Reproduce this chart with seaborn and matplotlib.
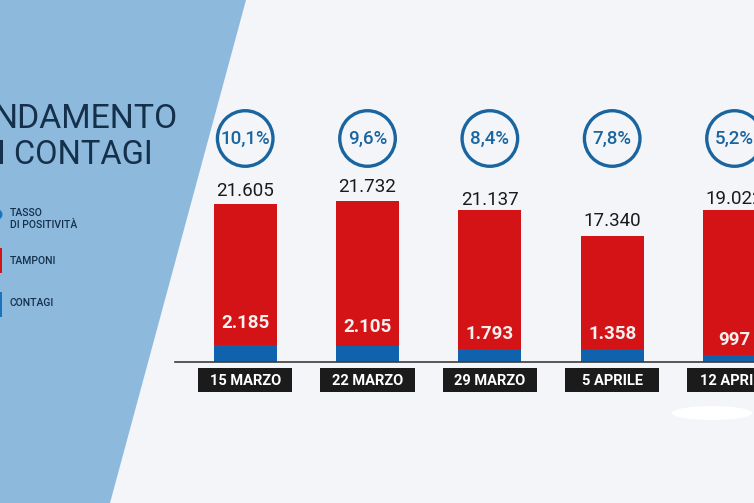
import pandas as pd
import seaborn as sns
import matplotlib.pyplot as plt
from matplotlib.patches import Polygon, Rectangle, Ellipse, Circle
from matplotlib.transforms import blended_transform_factory

# values
dates = ['15 MARZO', '22 MARZO', '29 MARZO', '5 APRILE', '12 APRILE']
# drawn bar heights, the original graphic is not quite to scale with its labels
tamponi = [21605, 22085, 20780, 17150, 20780]
contagi = [2263, 2058, 1715, 1715, 892]
tamponi_labels = ['21.605', '21.732', '21.137', '17.340', '19.022']
contagi_labels = ['2.185', '2.105', '1.793', '1.358', '997']
tasso_labels = ['10,1%', '9,6%', '8,4%', '7,8%', '5,2%']

W, H = 754, 503
BG = '#f4f5f8'
SIDE = '#8db9dd'
RED = '#d41317'
BLUE = '#0f62ab'
RING = '#1a659f'
NAVY = '#14304a'
FONT = 'Roboto'


def fx(x):
    return x / W


def fy(y):
    return 1 - y / H


sns.set_theme(style='white')
plt.rcParams['font.family'] = [FONT, 'DejaVu Sans']

fig = plt.figure(figsize=(W / 100, H / 100), dpi=100, facecolor=BG)

# side panel
fig.add_artist(Polygon([(0, 1), (fx(246), 1), (fx(110), 0), (0, 0)], closed=True,
                       transform=fig.transFigure, facecolor=SIDE, edgecolor='none', zorder=0))
# white smudge under the last date
fig.add_artist(Ellipse((fx(712), fy(413)), 80 / W, 14 / H, transform=fig.transFigure,
                       facecolor='white', edgecolor='none', zorder=0))

# title, cut off by the left edge like the original
fig.text(fx(177), fy(119), 'NDAMENTO', ha='right', va='center', fontsize=24.3, color=NAVY)
fig.text(fx(153), fy(155), 'I CONTAGI', ha='right', va='center', fontsize=23.5, color=NAVY)

# legend
fig.add_artist(Circle((fx(-8), fy(214.5)), 10.5 / W, transform=fig.transFigure,
                      facecolor='#1a74bd', edgecolor='none'))
fig.add_artist(Rectangle((0, fy(273)), 1.5 / W, 25 / H, transform=fig.transFigure,
                         facecolor=RED, edgecolor='none'))
fig.add_artist(Rectangle((0, fy(317)), 1.5 / W, 25 / H, transform=fig.transFigure,
                         facecolor='#1a74bd', edgecolor='none'))
for txt, y in [('TASSO', 213), ('DI POSITIVITÀ', 225.5), ('TAMPONI', 261), ('CONTAGI', 303)]:
    fig.text(fx(10), fy(y), txt, ha='left', va='center', fontsize=7.5, fontweight='medium', color=NAVY)

# chart, the axes bottom sits on the baseline
base_y = 361.5
ax = fig.add_axes([fx(175), fy(base_y), (W - 175) / W, base_y / H])
ax.patch.set_alpha(0)
ax.set_axisbelow(False)

df = pd.DataFrame({'data': dates, 'tamponi': tamponi, 'contagi': contagi})
sns.barplot(data=df, x='data', y='tamponi', color=RED, saturation=1, width=0.515, linewidth=0, ax=ax)
sns.barplot(data=df, x='data', y='contagi', color=BLUE, saturation=1, width=0.515, linewidth=0, ax=ax)

step = 122.33
first = 245.2
ax.set_xlim((175 - first) / step, (754 - first) / step)
ax.set_ylim(0, base_y / 0.00729)
ax.set_xlabel('')
ax.set_ylabel('')
ax.set_yticks([])
sns.despine(ax=ax, left=True)
ax.spines['bottom'].set_color('#3c3c3c')
ax.spines['bottom'].set_linewidth(1.2)

# date tick labels on black boxes
ax.tick_params(axis='x', length=0, pad=9)
ax.set_xticks(range(len(dates)))
ax.set_xticklabels(dates, fontsize=10.5, fontweight='bold', color='white')
trans = blended_transform_factory(ax.transData, ax.transAxes)
box_top = -(368 - base_y) / base_y
box_h = 23.5 / base_y
for i in range(len(dates)):
    ax.add_patch(Rectangle((i - 0.385, box_top - box_h), 0.77, box_h, transform=trans,
                           facecolor='#1b1b1b', edgecolor='none', clip_on=False, zorder=1))

# rings with the positivity rate
ring_y = (base_y - 138.5) / base_y
ax.scatter(range(len(dates)), [ring_y] * len(dates), transform=trans, s=1600, facecolor='none',
           edgecolor=RING, linewidth=2.4, clip_on=False, zorder=4)
for i, txt in enumerate(tasso_labels):
    ax.text(i, ring_y, txt, transform=trans, ha='center', va='center', fontsize=13.5,
            fontweight='medium', color=RING)

# value labels
gaps = [12.5, 13.5, 10.5, 15.5, 11.5]
for i, txt in enumerate(tamponi_labels):
    ax.annotate(txt, (i, tamponi[i]), xytext=(0, gaps[i] * 0.72), textcoords='offset points',
                ha='center', va='center', fontsize=13.5, color='#1a1a1a')
label_gaps = [22, 19.5, 15, 15, 15]
for i, txt in enumerate(contagi_labels):
    ax.annotate(txt, (i, contagi[i]), xytext=(0, label_gaps[i] * 0.72), textcoords='offset points',
                ha='center', va='center', fontsize=13.5, fontweight='bold', color='#f8f0ee')

fig.savefig('out.png', dpi=100, facecolor=BG)
